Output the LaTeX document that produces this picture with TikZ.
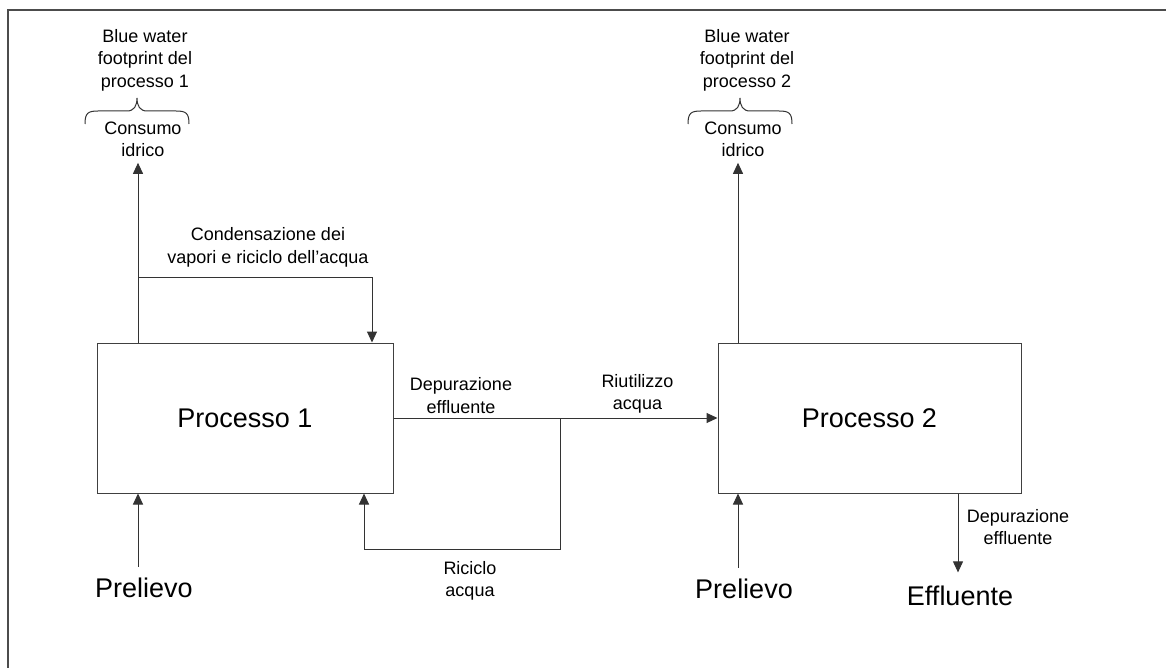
\documentclass[tikz,border=0pt]{standalone}
\usepackage{fontspec}
\setmainfont{Liberation Sans}
\usetikzlibrary{arrows.meta}
\begin{document}
\begin{tikzpicture}[x=1pt,y=-1pt,
  flow/.style={draw=black!80, line width=1pt, -{Triangle[length=11pt,width=10pt]}},
  proc/.style={draw=black!75, line width=1pt, minimum width=#1, minimum height=150pt,
    inner sep=0pt, font=\fontsize{27}{32}\selectfont},
  big/.style={inner sep=0pt, font=\fontsize{27}{32}\selectfont},
  lbl/.style={inner sep=0pt, align=center, font=\fontsize{18}{22.5}\selectfont},
  bracepath/.style={draw=black!80, line width=1pt},
  pics/wbrace/.style={code={
    \draw[bracepath] (-52,26) .. controls (-52,15) and (-49,13) .. (-39,13) -- (-10,13)
      .. controls (-3,13) and (0,8) .. (0,0) .. controls (0,8) and (3,13) .. (10,13)
      -- (39,13) .. controls (49,13) and (52,15) .. (52,26);
  }}
]
\useasboundingbox (0,0) rectangle (1166,668);
\fill[white] (0,0) rectangle (1166,668);
% outer frame
\draw[black!70, line width=1.4pt] (8,668) -- (8,10) -- (1166,10);

% processes
\node[proc=296pt] (p1) at (245,418) {Processo 1};
\node[proc=303pt] (p2) at (869.5,418) {Processo 2};

% labels
\node[lbl] (bw1) at (145,60) {Blue water\\footprint del\\processo 1};
\node[lbl] (c1) at (143,139.5) {Consumo\\idrico};
\node[lbl] (bw2) at (747,60) {Blue water\\footprint del\\processo 2};
\node[lbl] (c2) at (743,139.5) {Consumo\\idrico};
\node[lbl] (cond) at (268,247.5) {Condensazione dei\\vapori e riciclo dell’acqua};
\node[lbl] (dep1) at (461,395.5) {Depurazione\\effluente};
\node[lbl] (riu) at (637.5,394) {Riutilizzo\\acqua};
\node[lbl] (ric) at (470,581) {Riciclo\\acqua};
\node[lbl] (dep2) at (1018,527) {Depurazione\\effluente};
\node[big] (pr1) at (144,588) {Prelievo};
\node[big] (pr2) at (744,589) {Prelievo};
\node[big] (eff) at (960,596) {Effluente};

% braces grouping consumption into the blue water footprint
\pic at (137,98) {wbrace};
\pic at (740,98) {wbrace};

% branch points and flow columns
\coordinate (cj) at (138,277);
\coordinate (rj) at (560,418);
\coordinate (rb) at (560,549);
\coordinate (x2) at (738,300);
\coordinate (x3) at (958,300);

% process 1
\draw[flow, shorten >=5.5pt] (p1.north -| cj) -- (cj |- c1.south);
\draw[flow] (cj) -| ([xshift=127pt]p1.north);
\draw[flow, shorten <=11pt] (pr1.north -| cj) -- (p1.south -| cj);
\draw[flow] (p1.east) -- (p2.west);
\draw[flow] (rj) -- (rb) -| ([xshift=119pt]p1.south);

% process 2
\draw[flow, shorten >=5.5pt] (p2.north -| x2) -- (x2 |- c2.south);
\draw[flow, shorten <=11pt] (pr2.north -| x2) -- (p2.south -| x2);
\draw[flow, shorten >=13.5pt] (p2.south -| x3) -- (x3 |- eff.north);
\end{tikzpicture}
\end{document}
